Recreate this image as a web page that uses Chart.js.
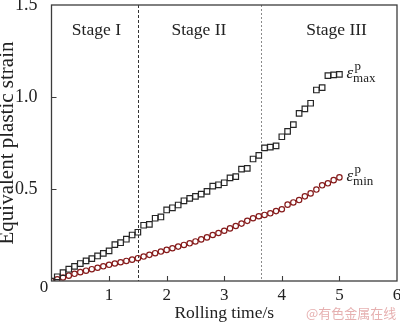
<!DOCTYPE html>
<html>
<head>
<meta charset="utf-8">
<script src="https://cdn.jsdelivr.net/npm/chart.js@4.4.1/dist/chart.umd.min.js"></script>
<style>
  html, body { margin: 0; padding: 0; background: #ffffff; }
  #wrap { width: 400px; height: 323px; }
</style>
</head>
<body>
<div id="wrap"><canvas id="c" width="400" height="323"></canvas></div>
<script>
// Rolling time (s) of each sampled step
const times = [
  0.0, 0.1, 0.2, 0.3, 0.4, 0.5, 0.6, 0.7, 0.8, 0.9,
  1.0, 1.1, 1.2, 1.3, 1.4, 1.5, 1.6, 1.7, 1.8, 1.9,
  2.0, 2.1, 2.2, 2.3, 2.4, 2.5, 2.6, 2.7, 2.8, 2.9,
  3.0, 3.1, 3.2, 3.3, 3.4, 3.5, 3.6, 3.7, 3.8, 3.9,
  4.0, 4.1, 4.2, 4.3, 4.4, 4.5, 4.6, 4.7, 4.8, 4.9,
  5.0
];

// Maximum equivalent plastic strain
const strainMax = [
  0.000, 0.023, 0.045, 0.064, 0.079, 0.095, 0.109, 0.122, 0.136, 0.150,
  0.164, 0.198, 0.208, 0.227, 0.250, 0.265, 0.303, 0.308, 0.341, 0.348,
  0.386, 0.398, 0.413, 0.436, 0.449, 0.460, 0.472, 0.487, 0.516, 0.523,
  0.534, 0.560, 0.567, 0.608, 0.612, 0.663, 0.683, 0.724, 0.728, 0.734,
  0.784, 0.813, 0.850, 0.911, 0.935, 0.966, 1.038, 1.051, 1.116, 1.120,
  1.123
];

// Minimum equivalent plastic strain
const strainMin = [
  0.000, 0.009, 0.019, 0.029, 0.039, 0.048, 0.056, 0.064, 0.072, 0.080,
  0.088, 0.095, 0.102, 0.109, 0.116, 0.124, 0.133, 0.142, 0.151, 0.160,
  0.169, 0.178, 0.187, 0.196, 0.205, 0.215, 0.226, 0.237, 0.250, 0.261,
  0.273, 0.286, 0.299, 0.312, 0.327, 0.341, 0.352, 0.359, 0.368, 0.380,
  0.390, 0.415, 0.427, 0.440, 0.460, 0.476, 0.497, 0.520, 0.531, 0.548,
  0.563
];

// Stage boundaries (s) and stage captions
const stageBounds = [1.5, 3.64];
const stageNames = ['Stage I', 'Stage II', 'Stage III'];
const stageLabelX = [0.78, 2.56, 4.95];
const stageLabelY = 1.337;

// Axis ticks
const xTickValues = [1, 2, 3, 4, 5, 6];
const yTickValues = [0.5, 1.0, 1.5];

const SERIF = '"Liberation Serif", "Times New Roman", serif';
const INK = '#222222';
const FRAME = '#3c3c3c';

const toPoints = ys => times.map((t, i) => ({ x: t, y: ys[i] }));

// keep the plot box fixed: no extra room reserved for overhanging end labels
const noOverhang = s => {
  s.paddingTop = 0; s.paddingBottom = 0; s.paddingLeft = 0; s.paddingRight = 0;
};

const decorations = {
  id: 'decorations',
  beforeDatasetsDraw(chart) {
    const { ctx, chartArea: a, scales: { x, y } } = chart;
    ctx.save();
    // stage boundaries
    stageBounds.forEach((b, i) => {
      const px = Math.round(x.getPixelForValue(b)) + 0.5;
      ctx.beginPath();
      ctx.strokeStyle = i === 0 ? '#333333' : '#8a8a8a';
      ctx.lineWidth = 1;
      ctx.setLineDash(i === 0 ? [3, 2] : [2, 2]);
      ctx.moveTo(px, a.top);
      ctx.lineTo(px, a.bottom);
      ctx.stroke();
    });
    ctx.setLineDash([]);
    // stage captions
    ctx.fillStyle = INK;
    ctx.font = '17.5px ' + SERIF;
    ctx.textAlign = 'center';
    ctx.textBaseline = 'alphabetic';
    stageNames.forEach((s, i) => {
      ctx.fillText(s, x.getPixelForValue(stageLabelX[i]), y.getPixelForValue(stageLabelY));
    });
    ctx.restore();
  },
  afterDraw(chart) {
    const { ctx, chartArea: a, scales: { x, y } } = chart;
    ctx.save();
    // plot frame
    ctx.strokeStyle = FRAME;
    ctx.lineWidth = 1.3;
    ctx.strokeRect(a.left, a.top, a.right - a.left, a.bottom - a.top);
    // inward tick marks
    ctx.lineWidth = 1.1;
    ctx.beginPath();
    xTickValues.filter(v => v < 6).forEach(v => {
      const px = Math.round(x.getPixelForValue(v)) + 0.5;
      ctx.moveTo(px, a.bottom);
      ctx.lineTo(px, a.bottom - 5);
    });
    yTickValues.filter(v => v < 1.5).forEach(v => {
      const py = Math.round(y.getPixelForValue(v)) + 0.5;
      ctx.moveTo(a.left, py);
      ctx.lineTo(a.left + 5, py);
    });
    ctx.stroke();
    // shared origin label
    ctx.fillStyle = INK;
    ctx.font = '17px ' + SERIF;
    ctx.textAlign = 'center';
    ctx.textBaseline = 'middle';
    ctx.fillText('0', x.getPixelForValue(0) - 7.5, y.getPixelForValue(0) + 7);
    // series captions: ε with superscript p and subscript max/min
    const caption = (sub, ys) => {
      const n = ys.length - 1;
      const px = x.getPixelForValue(times[n]) + 7;
      const py = y.getPixelForValue(ys[n]) + 3.5;
      ctx.textAlign = 'left';
      ctx.textBaseline = 'alphabetic';
      ctx.font = 'italic 17px ' + SERIF;
      ctx.fillText('ε', px, py);
      const w = ctx.measureText('ε').width;
      ctx.font = '13px ' + SERIF;
      ctx.fillText('p', px + w + 1.5, py - 8);
      ctx.fillText(sub, px + w, py + 4);
    };
    caption('max', strainMax);
    caption('min', strainMin);
    // credit line
    ctx.fillStyle = 'rgba(222, 150, 150, 0.75)';
    ctx.font = '13px "Noto Sans CJK SC", sans-serif';
    ctx.textAlign = 'left';
    ctx.textBaseline = 'alphabetic';
    ctx.fillText('@有色金属在线', 306, 318);
    ctx.restore();
  }
};

new Chart(document.getElementById('c'), {
  type: 'scatter',
  data: {
    datasets: [
      {
        label: 'max',
        data: toPoints(strainMax),
        pointStyle: 'rect',
        pointRadius: 3.9,
        pointBorderWidth: 1.2,
        pointBorderColor: '#262626',
        pointBackgroundColor: 'rgba(255,255,255,0)',
        showLine: false
      },
      {
        label: 'min',
        data: toPoints(strainMin),
        pointStyle: 'circle',
        pointRadius: 2.7,
        pointBorderWidth: 1.2,
        pointBorderColor: '#861b1b',
        pointBackgroundColor: 'rgba(255,255,255,0)',
        showLine: false
      }
    ]
  },
  options: {
    responsive: false,
    animation: false,
    devicePixelRatio: 1,
    events: [],
    layout: { padding: { left: 0, top: 5, right: 3, bottom: 0 }, autoPadding: false },
    plugins: { legend: { display: false }, tooltip: { enabled: false } },
    scales: {
      x: {
        type: 'linear',
        position: 'bottom',
        min: 0,
        max: 6,
        afterBuildTicks: s => { s.ticks = xTickValues.map(v => ({ value: v })); },
        afterFit: s => { s.height = 42; noOverhang(s); },
        grid: { display: false },
        border: { display: false },
        ticks: {
          color: INK,
          font: { family: SERIF, size: 17 },
          padding: -4,
          maxRotation: 0,
          autoSkip: false,
          callback: v => String(v)
        },
        title: {
          display: true,
          text: 'Rolling time/s',
          color: INK,
          font: { family: SERIF, size: 17.5 },
          padding: { top: 0, bottom: -0.5 }
        }
      },
      y: {
        type: 'linear',
        min: 0,
        max: 1.5,
        afterBuildTicks: s => { s.ticks = yTickValues.map(v => ({ value: v })); },
        afterFit: s => { s.width = 51.5; noOverhang(s); },
        grid: { display: false },
        border: { display: false },
        ticks: {
          color: INK,
          font: { family: SERIF, size: 18 },
          padding: 6,
          autoSkip: false,
          callback: v => v.toFixed(1)
        },
        title: {
          display: true,
          text: 'Equivalent plastic strain',
          color: INK,
          font: { family: SERIF, size: 21 },
          padding: { top: -5, bottom: 0 }
        }
      }
    }
  },
  plugins: [decorations]
});
</script>
</body>
</html>
